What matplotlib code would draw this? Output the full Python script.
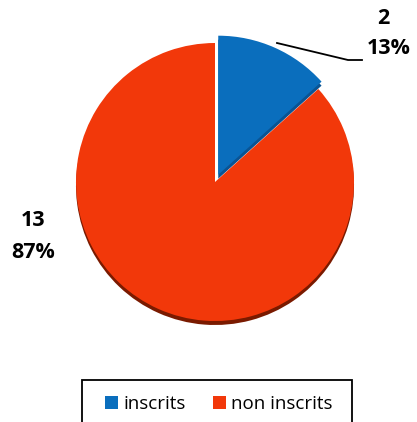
import matplotlib
matplotlib.use("Agg")
import matplotlib.pyplot as plt
from matplotlib.patches import Wedge, Rectangle
import numpy as np

categories = ["inscrits", "non inscrits"]
values = [2, 13]
percents = ["13%", "87%"]
colors = ["#0A6EBD", "#F2380A"]
depth_colors = ["#0A5494", "#7A1A00"]

W, H = 417, 422
fig = plt.figure(figsize=(W / 100, H / 100), dpi=100)
ax = fig.add_axes([0, 0, 1, 1])

cx, cy, r = 215, H - 182, 139
expl = 8

wedges, _ = ax.pie(values, colors=colors, startangle=90, counterclock=False,
                   center=(cx, cy), radius=r, explode=[expl, 0],
                   wedgeprops=dict(linewidth=0), frame=True)
# 3D depth under each slice
for w, dc in zip(wedges, depth_colors):
    w.set_zorder(3)
    ax.add_patch(Wedge((w.center[0], w.center[1] - 4), w.r, w.theta1, w.theta2,
                       color=dc, lw=0, zorder=2))

ax.set_xlim(0, W)
ax.set_ylim(0, H)
ax.axis("off")

font = "Open Sans"
fs = 15.5
ax.text(383, H - 18, f"{values[0]}", ha="center", va="center",
        fontsize=fs, fontweight="bold", family=font)
ax.text(389, H - 49, percents[0], ha="center", va="center",
        fontsize=fs, fontweight="bold", family=font)
ax.text(33, H - 221, f"{values[1]}", ha="center", va="center",
        fontsize=fs, fontweight="bold", family=font)
ax.text(33, H - 252, percents[1], ha="center", va="center",
        fontsize=fs, fontweight="bold", family=font)

# leader line
ax.plot([277, 348, 362], [H - 43, H - 60, H - 60], color="black", lw=1.3, zorder=4)

# legend box (extends past the bottom edge as in the reference)
ax.add_patch(Rectangle((82, -10), 270, (H - 380) + 10, fill=False,
                       edgecolor="black", lw=1.3, zorder=5))
leg = fig.legend(wedges, categories, loc="center",
                 bbox_to_anchor=(219 / W, 1 - 404 / H), ncol=2, frameon=False,
                 prop=dict(family=font, size=13.5), handlelength=0.7,
                 handleheight=0.7, handletextpad=0.3, columnspacing=1.4,
                 borderpad=0, borderaxespad=0)

fig.savefig("out.png", dpi=100)
